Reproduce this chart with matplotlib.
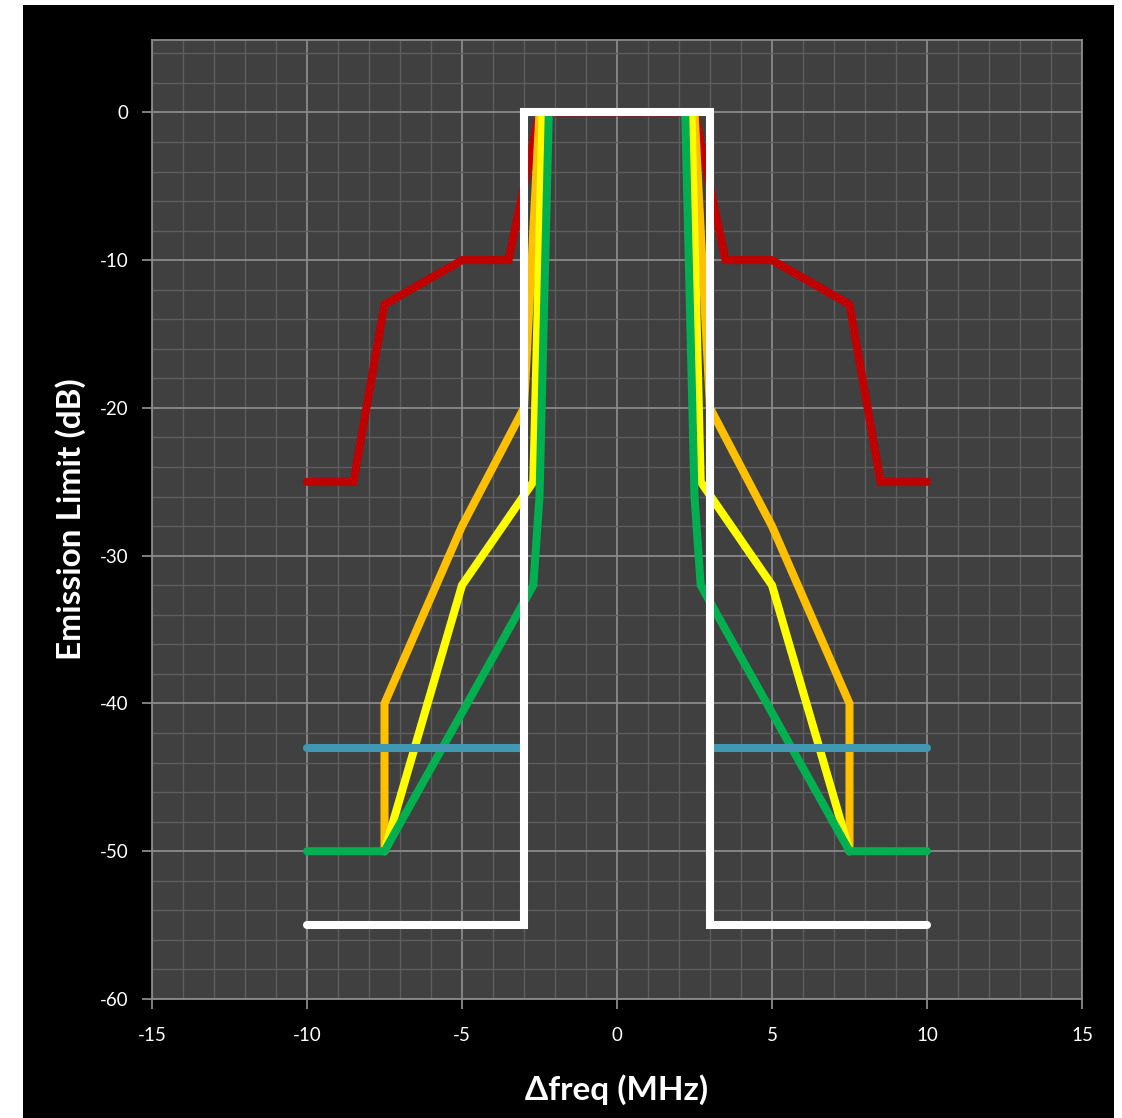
import matplotlib
matplotlib.use("Agg")
import matplotlib.pyplot as plt
from matplotlib.patches import Rectangle
from matplotlib.ticker import MultipleLocator

plt.rcParams["axes.unicode_minus"] = False

# emission masks (x in MHz offset, y in dB)
red_x = [-10, -8.5, -7.5, -5, -3.5, -2.5, 2.5, 3.5, 5, 7.5, 8.5, 10]
red_y = [-25, -25, -13, -10, -10, 0, 0, -10, -10, -13, -25, -25]

orange_x = [-7.5, -7.5, -5, -3, -2.5]
orange_y = [-50, -40, -28, -20, 0]

yellow_x = [-7.5, -5, -2.7, -2.4]
yellow_y = [-50, -32, -25, 0]

green_x = [-10, -7.5, -2.7, -2.5, -2.2]
green_y = [-50, -50, -32, -26, 0]

blue_x = [-10, -3]
blue_y = [-43, -43]

white_x = [-10, -3, -3, 3, 3, 10]
white_y = [-55, -55, 0, 0, -55, -55]


def mirror(xs, ys):
    return [-x for x in xs], list(ys)


fig = plt.figure(figsize=(11.22, 11.18), dpi=100, facecolor="white")
fig.add_artist(Rectangle((23 / 1122, 0), (1114 - 23) / 1122, 1 - 5 / 1118,
                         transform=fig.transFigure, facecolor="black",
                         edgecolor="none", zorder=-10))
ax = fig.add_axes([152 / 1122, 1 - 999 / 1118, 930 / 1122, 959 / 1118])
ax.set_facecolor("#404040")

lw = 5.8
kw = dict(lw=lw, solid_capstyle="round", solid_joinstyle="miter")
ax.plot(red_x, red_y, color="#C00000", zorder=3, **kw)
for xs, ys, col, z in [(orange_x, orange_y, "#FFC000", 4),
                       (yellow_x, yellow_y, "#FFFF00", 5),
                       (green_x, green_y, "#00B050", 6),
                       (blue_x, blue_y, "#4098B2", 7)]:
    ax.plot(xs, ys, color=col, zorder=z, **kw)
    mx, my = mirror(xs, ys)
    ax.plot(mx, my, color=col, zorder=z, **kw)
ax.plot(white_x, white_y, color="white", zorder=8, **kw)

ax.set_xlim(-15, 15)
ax.set_ylim(-60, 4.9)
ax.xaxis.set_major_locator(MultipleLocator(5))
ax.xaxis.set_minor_locator(MultipleLocator(1))
ax.yaxis.set_major_locator(MultipleLocator(10))
ax.yaxis.set_minor_locator(MultipleLocator(2))
ax.grid(which="major", color="#8a8a8a", lw=1.3, zorder=1)
ax.grid(which="minor", color="#5e5e5e", lw=1.0, zorder=1)
ax.set_axisbelow(True)
ax.tick_params(which="major", direction="out", length=7, width=1.3,
               color="#8a8a8a", labelcolor="white", labelsize=13.5)
ax.tick_params(axis="x", pad=13)
ax.tick_params(axis="y", pad=10)
ax.tick_params(which="minor", length=0)
for s in ax.spines.values():
    s.set_color("#8a8a8a")
    s.set_linewidth(1.3)

for lab in ax.get_xticklabels() + ax.get_yticklabels():
    lab.set_family("Lato")

ax.set_xlabel("Δfreq (MHz)", color="white", fontsize=24, fontweight="bold",
              family="Lato", labelpad=22)
ax.set_ylabel("Emission Limit (dB)", color="white", fontsize=24,
              fontweight="bold", family="Lato", labelpad=10)

fig.savefig("out.png", dpi=100, facecolor=fig.get_facecolor())
